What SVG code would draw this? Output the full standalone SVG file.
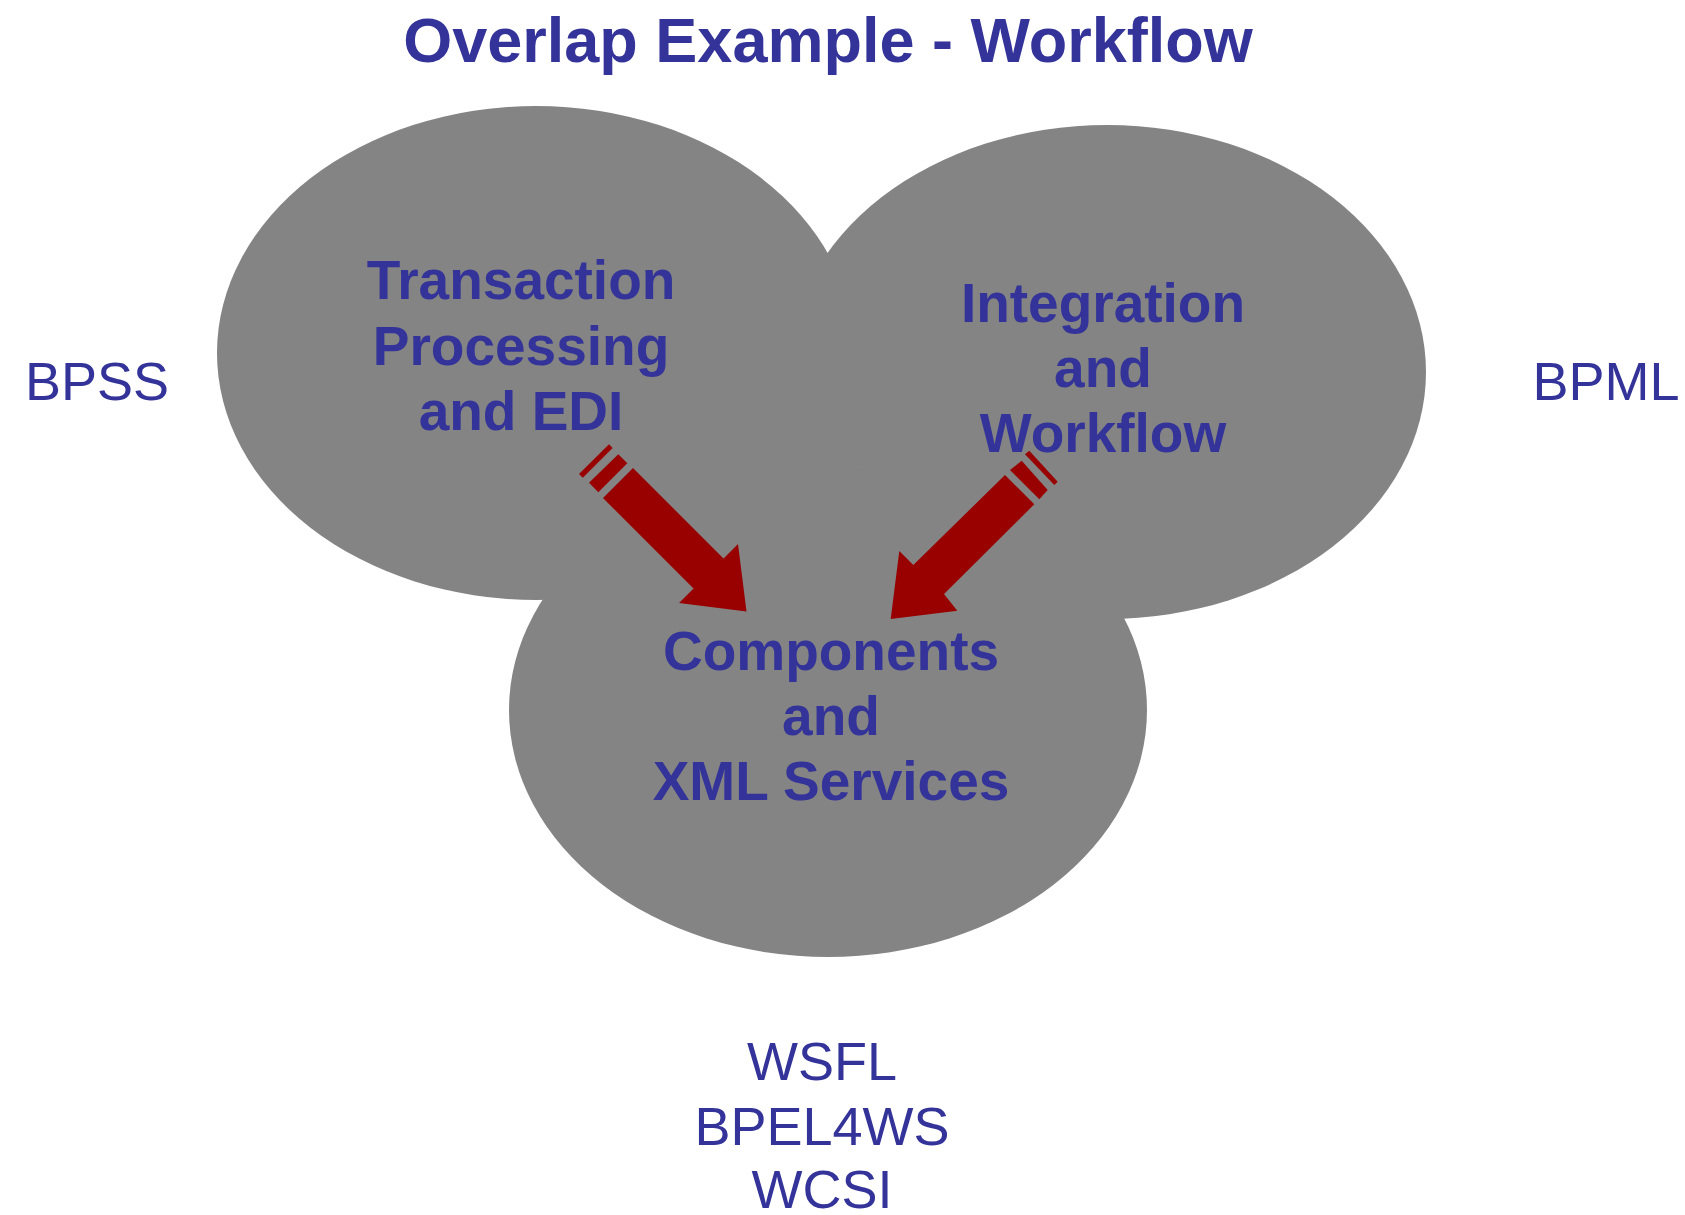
<svg xmlns="http://www.w3.org/2000/svg" width="1685" height="1215" viewBox="0 0 1685 1215">
  <style>
    .blob { fill: #848484; }
    .bold { font-family: "Liberation Sans", Arial, sans-serif; font-weight: bold; font-size: 55px; fill: #333399; text-anchor: middle; }
    .title { font-family: "Liberation Sans", Arial, sans-serif; font-weight: bold; font-size: 63px; fill: #333399; text-anchor: middle; }
    .plain { font-family: "Liberation Sans", Arial, sans-serif; font-size: 54px; fill: #333399; text-anchor: middle; }
    .arrow { fill: #990000; }
  </style>
  <rect width="1685" height="1215" fill="#ffffff"/>
  <text class="title" x="828" y="62">Overlap Example - Workflow</text>

  <g id="node-transaction">
    <ellipse class="blob" cx="536" cy="353" rx="319" ry="247"/>
  </g>
  <g id="node-integration">
    <ellipse class="blob" cx="1107" cy="372" rx="319" ry="247"/>
  </g>
  <g id="node-components">
    <ellipse class="blob" cx="828" cy="710" rx="319" ry="247"/>
  </g>

  <g id="labels-transaction">
    <text class="bold" x="521" y="299">Transaction</text>
    <text class="bold" x="521" y="365">Processing</text>
    <text class="bold" x="521" y="430">and EDI</text>
  </g>
  <g id="labels-integration">
    <text class="bold" x="1103" y="322">Integration</text>
    <text class="bold" x="1103" y="387">and</text>
    <text class="bold" x="1103" y="452">Workflow</text>
  </g>
  <g id="labels-components">
    <text class="bold" x="831" y="670">Components</text>
    <text class="bold" x="831" y="735">and</text>
    <text class="bold" x="831" y="800">XML Services</text>
  </g>

  <g id="node-bpss">
    <text class="plain" x="97" y="400">BPSS</text>
  </g>
  <g id="node-bpml">
    <text class="plain" x="1606" y="400">BPML</text>
  </g>
  <g id="node-standards">
    <text class="plain" x="822" y="1080">WSFL</text>
    <text class="plain" x="822" y="1145">BPEL4WS</text>
    <text class="plain" x="822" y="1208">WCSI</text>
  </g>

  <g id="connectors">
    <g id="arrow-left">
      <polygon class="arrow" points="633,468 723.5,558.5 738,544 746.5,611.5 679,603 693.5,588.5 603,498"/>
      <polygon class="arrow" points="618.3,454.3 627.3,463.3 598.3,492.3 589,482.7"/>
      <polygon class="arrow" points="609,444.3 612.6,448 582.8,477.8 579,474"/>
    </g>
    <g id="arrow-right">
      <polygon class="arrow" points="1034.3,504.3 944,594 957.3,610.7 890.7,619 899.3,551 913.3,565 1005,475"/>
      <polygon class="arrow" points="1021.7,460.7 1047.7,490 1039.3,499.3 1010,470"/>
      <polygon class="arrow" points="1029.3,450.7 1057.7,481.7 1054.3,485 1025,454.3"/>
    </g>
  </g>
</svg>
